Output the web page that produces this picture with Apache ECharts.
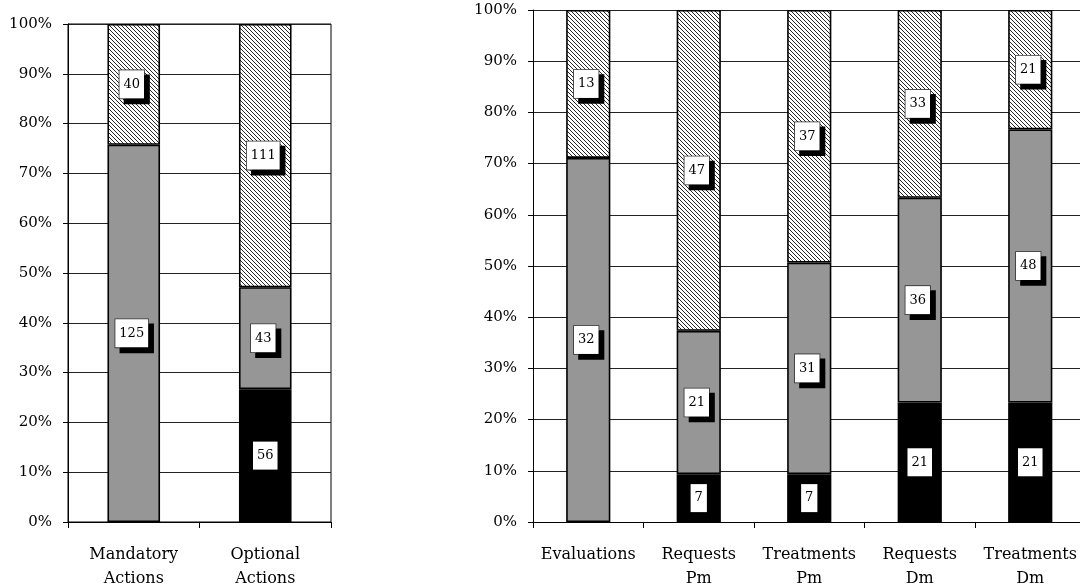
<!DOCTYPE html>
<html>
<head>
<meta charset="utf-8">
<script src="https://cdn.jsdelivr.net/npm/echarts@6/dist/echarts.min.js"></script>
<style>
html,body{margin:0;padding:0;background:#fff;}
#chart{width:1080px;height:587px;}
</style>
</head>
<body>
<div id="chart"></div>
<script>
// ---- data (counts) ----
const leftCategories = ['Mandatory\nActions', 'Optional\nActions'];
const leftBlack = [0, 56];
const leftGray = [125, 43];
const leftHatched = [40, 111];

const rightCategories = ['Evaluations', 'Requests\nPm', 'Treatments\nPm', 'Requests\nDm', 'Treatments\nDm'];
const rightBlack = [0, 7, 7, 21, 21];
const rightGray = [32, 21, 31, 36, 48];
const rightHatched = [13, 47, 37, 33, 21];

const yTicks = [0, 10, 20, 30, 40, 50, 60, 70, 80, 90, 100];

// ---- hatch pattern ----
function makeHatch() {
  const s = 4;
  const c = document.createElement('canvas');
  c.width = s; c.height = s;
  const ctx = c.getContext('2d');
  const img = ctx.createImageData(s, s);
  for (let y = 0; y < s; y++) {
    for (let x = 0; x < s; x++) {
      const i = (y * s + x) * 4;
      const on = (x - y + s) % s === 0;
      const v = on ? 40 : 255;
      img.data[i] = v; img.data[i+1] = v; img.data[i+2] = v; img.data[i+3] = 255;
    }
  }
  ctx.putImageData(img, 0, 0);
  return c;
}
const hatch = makeHatch();

const FONT = 'DejaVu Serif';

function pct(arr, a, b, c) {
  return arr.map((v, i) => v / (a[i] + b[i] + c[i]) * 100);
}

function buildData(counts, a, b, c) {
  const p = pct(counts, a, b, c);
  return p.map((v, i) => counts[i] === 0
    ? { value: 0, count: 0, label: { show: false }, itemStyle: { borderWidth: 0 } }
    : { value: v, count: counts[i] });
}

const boxLabel = {
  show: true,
  position: 'inside',
  formatter: p => String(p.data.count),
  fontFamily: FONT,
  fontSize: 13,
  color: '#000',
  backgroundColor: '#fff',
  borderColor: '#333',
  borderWidth: 0.8,
  padding: [7, 4, 6, 4],
  lineHeight: 15,
  shadowColor: '#000',
  shadowBlur: 0,
  shadowOffsetX: 5,
  shadowOffsetY: 5,
  offset: [-2, 0]
};
const blackLabel = Object.assign({}, boxLabel, {
  borderWidth: 0, shadowOffsetX: 0, shadowOffsetY: 0, shadowColor: 'transparent', offset: [0, 0]
});

function series(idx, stack, black, gray, hatched) {
  return [
    { type: 'bar', xAxisIndex: idx, yAxisIndex: idx, stack: stack, barWidth: '40%',
      data: buildData(black, black, gray, hatched),
      itemStyle: { color: '#000', borderColor: '#000', borderWidth: 1.6 },
      label: blackLabel, emphasis: { disabled: true } },
    { type: 'bar', xAxisIndex: idx, yAxisIndex: idx, stack: stack, barWidth: '40%',
      data: buildData(gray, black, gray, hatched),
      itemStyle: { color: '#969696', borderColor: '#000', borderWidth: 1.6 },
      label: boxLabel, emphasis: { disabled: true } },
    { type: 'bar', xAxisIndex: idx, yAxisIndex: idx, stack: stack, barWidth: '40%',
      data: buildData(hatched, black, gray, hatched),
      itemStyle: { color: { image: hatch, repeat: 'repeat' }, borderColor: '#000', borderWidth: 1.6 },
      label: boxLabel, emphasis: { disabled: true } }
  ];
}

function xAxis(idx, cats) {
  return {
    type: 'category', gridIndex: idx, data: cats,
    axisLine: { lineStyle: { color: '#000', width: 1 } },
    axisTick: { show: true, length: 6, lineStyle: { color: '#000' } },
    axisLabel: { fontFamily: FONT, fontSize: 16, color: '#000', margin: 21, lineHeight: 24, interval: 0 }
  };
}
function yAxis(idx) {
  return {
    type: 'value', gridIndex: idx, min: yTicks[0], max: yTicks[yTicks.length - 1], interval: 10,
    axisLine: { show: true, lineStyle: { color: '#000', width: 1 } },
    axisTick: { show: true, length: 5, lineStyle: { color: '#000' } },
    axisLabel: { fontFamily: FONT, fontSize: 15, color: '#000', margin: 16, formatter: '{value}%' },
    splitLine: { show: true, lineStyle: { color: '#222', width: 1 } }
  };
}

const chart = echarts.init(document.getElementById('chart'), null, { renderer: 'canvas' });
chart.setOption({
  animation: false,
  backgroundColor: '#fff',
  grid: [
    { left: 68, top: 24, width: 263, bottom: 65, containLabel: false, outerBoundsMode: 'none',
      show: true, borderColor: '#000', borderWidth: 1, backgroundColor: 'transparent' },
    { left: 533, top: 10, width: 552.5, bottom: 65, containLabel: false, outerBoundsMode: 'none' }
  ],
  xAxis: [xAxis(0, leftCategories), xAxis(1, rightCategories)],
  yAxis: [yAxis(0), yAxis(1)],
  series: [].concat(
    series(0, 'L', leftBlack, leftGray, leftHatched),
    series(1, 'R', rightBlack, rightGray, rightHatched)
  )
});
</script>
</body>
</html>
